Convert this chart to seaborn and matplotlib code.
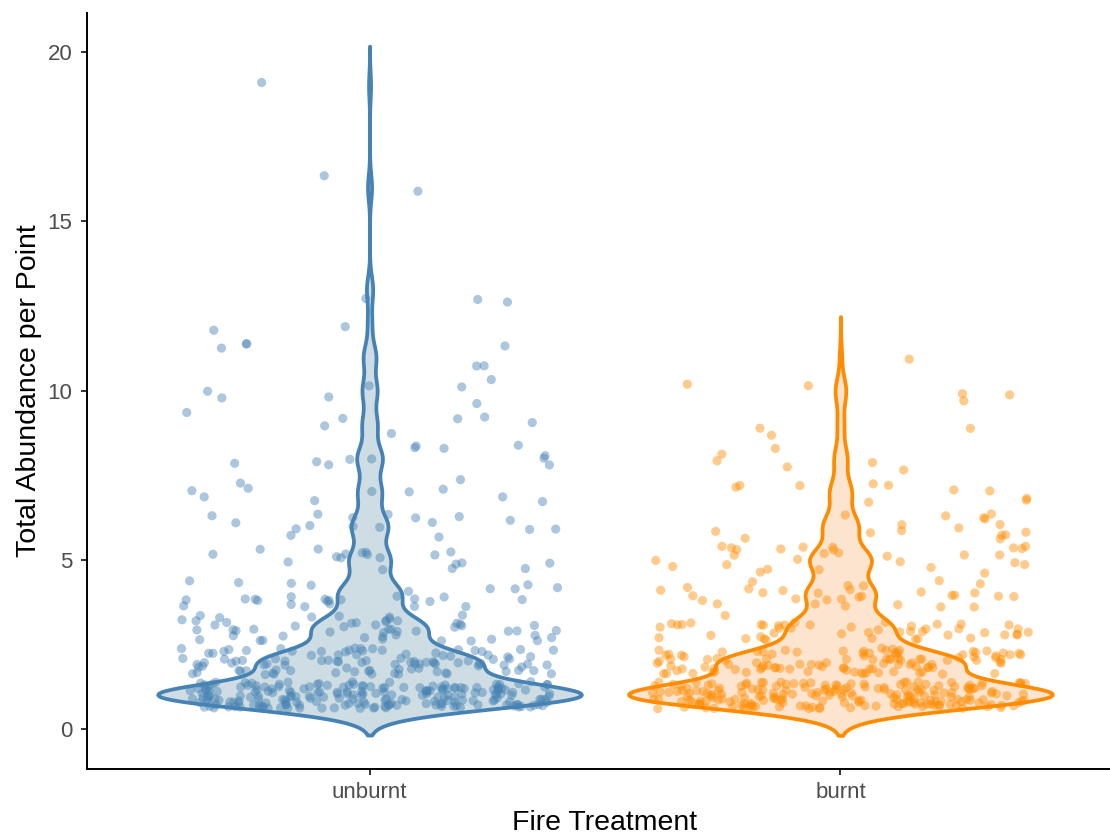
import numpy as np
import pandas as pd
import seaborn as sns
import matplotlib.pyplot as plt

# Counts of survey points per total abundance value
abundance_levels = list(range(1, 20))
unburnt_counts = [205, 100, 52, 29, 19, 17, 11, 12, 7, 7, 6, 2, 3, 0, 0, 2, 0, 0, 1]
burnt_counts = [200, 108, 46, 31, 28, 16, 10, 6, 3, 5, 1, 0, 0, 0, 0, 0, 0, 0, 0]

treatments = ['unburnt', 'burnt']
line_colors = ['steelblue', 'darkorange']
fill_colors = ['#cddde3', '#fde4ce']

# Build long-format table from the frequency counts
rows = []
for treatment, counts in zip(treatments, [unburnt_counts, burnt_counts]):
    for level, n in zip(abundance_levels, counts):
        rows += [(treatment, level)] * n
df = pd.DataFrame(rows, columns=['treatment', 'abundance'])

# Vertical jitter like ggplot's geom_jitter (40% of the data resolution)
rng = np.random.default_rng(11)
df['abundance_jit'] = df['abundance'] + rng.uniform(-0.4, 0.4, len(df))

sns.set_style('ticks')
plt.rcParams['font.family'] = ['Liberation Sans', 'DejaVu Sans']

fig = plt.figure(figsize=(11.1, 8.38), dpi=100)
# panel runs slightly past the right edge of the image, like the original
ax = fig.add_axes([0.0784, 0.0823, 0.9333, 0.902])

for treatment, line_c, fill_c in zip(treatments, line_colors, fill_colors):
    sub = df[df['treatment'] == treatment]
    # nrd0 bandwidth as in R, passed as a factor of the std
    vals = sub['abundance']
    iqr = vals.quantile(0.75) - vals.quantile(0.25)
    bw = 0.9 * min(vals.std(), iqr / 1.34) * len(vals) ** (-0.2)
    sns.violinplot(data=sub, x='treatment', y='abundance', order=treatments,
                   color=fill_c, linecolor=line_c, linewidth=2.7, saturation=1,
                   inner=None, cut=3, bw_method=bw / vals.std(), gridsize=512,
                   width=0.9, density_norm='area', ax=ax)

np.random.seed(3)
sns.stripplot(data=df, x='treatment', y='abundance_jit', order=treatments,
              hue='treatment', palette=dict(zip(treatments, line_colors)),
              jitter=0.4, size=6.6, alpha=0.45, linewidth=0, legend=False, ax=ax)

ax.set_xlim(-0.6, 1.6)
ax.set_ylim(-1.18, 21.15)
ax.set_yticks([0, 5, 10, 15, 20])

ax.set_xlabel('Fire Treatment', fontsize=20.5, color='black', labelpad=5)
ax.set_ylabel('Total Abundance per Point', fontsize=20.5, color='black', labelpad=4)
ax.tick_params(axis='both', labelsize=16, labelcolor='#4d4d4d', color='#333333',
               length=4.5, width=1.4)
ax.tick_params(axis='y', pad=6)
ax.tick_params(axis='x', pad=5)

sns.despine(ax=ax)
for side in ['left', 'bottom']:
    ax.spines[side].set_linewidth(1.4)
    ax.spines[side].set_color('black')

plt.savefig('out.png', dpi=100)
